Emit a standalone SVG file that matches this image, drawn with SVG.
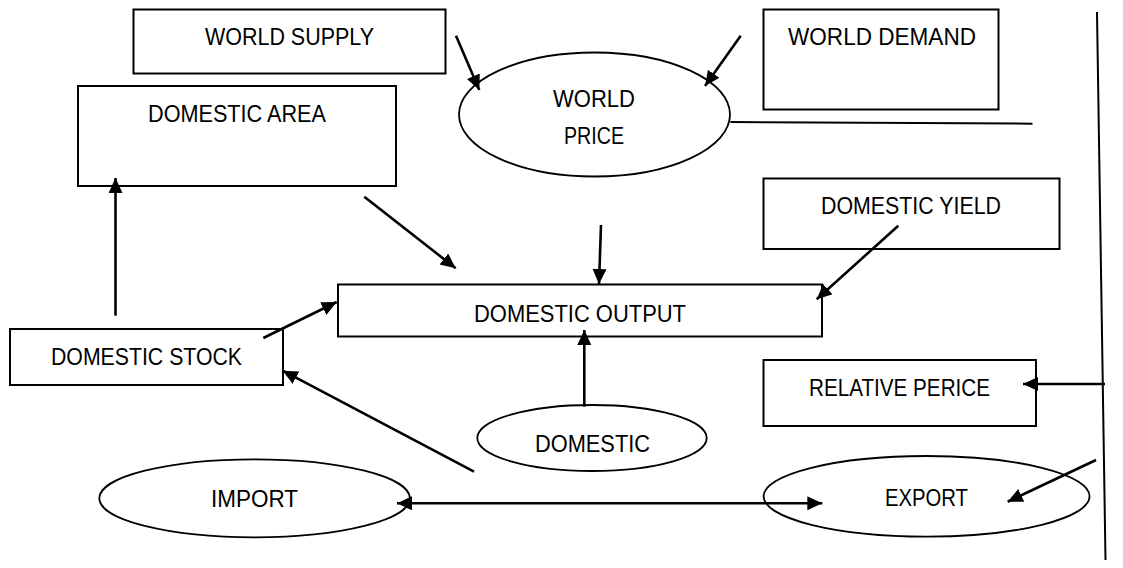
<svg xmlns="http://www.w3.org/2000/svg" width="1123" height="568" viewBox="0 0 1123 568">
<style>
.box{fill:none;stroke:#000;stroke-width:2}
.ell{fill:none;stroke:#000;stroke-width:1.8}
.lbl{font-family:"Liberation Sans",Arial,sans-serif;font-size:24px;fill:#000}
.arr{fill:none;stroke:#000;stroke-width:2.6;marker-end:url(#ah)}
.ln{fill:none;stroke:#000;stroke-width:2}
</style>
<defs>
<marker id="ah" markerUnits="userSpaceOnUse" markerWidth="18" markerHeight="16" refX="15" refY="7" orient="auto">
<path d="M0,0 L15,7 L0,14 z" fill="#000"/>
</marker>
<marker id="as" markerUnits="userSpaceOnUse" markerWidth="18" markerHeight="16" refX="0" refY="7" orient="auto">
<path d="M15,0 L0,7 L15,14 z" fill="#000"/>
</marker>
</defs>
<rect width="1123" height="568" fill="#fff"/>
<g id="world-supply">
<rect class="box" x="133.5" y="9.5" width="312" height="64"/>
<text class="lbl" x="205" y="45" textLength="169" lengthAdjust="spacingAndGlyphs">WORLD SUPPLY</text>
</g>
<g id="world-demand">
<rect class="box" x="763.5" y="9.5" width="235" height="100"/>
<text class="lbl" x="788" y="45" textLength="188" lengthAdjust="spacingAndGlyphs">WORLD DEMAND</text>
</g>
<g id="world-price">
<ellipse class="ell" cx="594.5" cy="114.5" rx="135.5" ry="62"/>
<text class="lbl" x="553" y="107" textLength="82" lengthAdjust="spacingAndGlyphs">WORLD</text>
<text class="lbl" x="564" y="144" textLength="60" lengthAdjust="spacingAndGlyphs">PRICE</text>
</g>
<g id="domestic-area">
<rect class="box" x="78" y="86" width="318" height="100"/>
<text class="lbl" x="148" y="122" textLength="178" lengthAdjust="spacingAndGlyphs">DOMESTIC AREA</text>
</g>
<g id="domestic-yield">
<rect class="box" x="763.5" y="178.5" width="296" height="70.5"/>
<text class="lbl" x="821" y="214" textLength="180" lengthAdjust="spacingAndGlyphs">DOMESTIC YIELD</text>
</g>
<g id="domestic-output">
<rect class="box" x="338" y="284.5" width="484" height="52"/>
<text class="lbl" x="474" y="321.5" textLength="212" lengthAdjust="spacingAndGlyphs">DOMESTIC OUTPUT</text>
</g>
<g id="domestic-stock">
<rect class="box" x="10" y="329" width="273" height="56"/>
<text class="lbl" x="51" y="365" textLength="191" lengthAdjust="spacingAndGlyphs">DOMESTIC STOCK</text>
</g>
<g id="relative-perice">
<rect class="box" x="763.5" y="360" width="272.5" height="66"/>
<text class="lbl" x="809" y="396" textLength="181" lengthAdjust="spacingAndGlyphs">RELATIVE PERICE</text>
</g>
<g id="domestic">
<ellipse class="ell" cx="592" cy="438" rx="114.7" ry="33"/>
<text class="lbl" x="535" y="452" textLength="115" lengthAdjust="spacingAndGlyphs">DOMESTIC</text>
</g>
<g id="import">
<ellipse class="ell" cx="254.6" cy="498.3" rx="155.3" ry="39"/>
<text class="lbl" x="211" y="507" textLength="87" lengthAdjust="spacingAndGlyphs">IMPORT</text>
</g>
<g id="export">
<ellipse class="ell" cx="926.6" cy="496.3" rx="163" ry="40.3"/>
<text class="lbl" x="885" y="505.5" textLength="83" lengthAdjust="spacingAndGlyphs">EXPORT</text>
</g>
<g id="connectors">
<line class="arr" x1="456" y1="35.7" x2="479.3" y2="90"/>
<line class="arr" x1="740.7" y1="35.7" x2="705" y2="86"/>
<line class="ln" x1="730.5" y1="122" x2="1032.5" y2="123.7"/>
<line class="ln" x1="1097" y1="12" x2="1105.5" y2="560"/>
<line class="arr" x1="115.5" y1="315.7" x2="115.5" y2="178"/>
<line class="arr" x1="364.3" y1="196.7" x2="455.7" y2="268.3"/>
<line class="arr" x1="601" y1="225" x2="599" y2="284"/>
<line class="arr" x1="898.3" y1="225.7" x2="816.7" y2="299.3"/>
<line class="arr" x1="263.3" y1="338" x2="336.7" y2="302"/>
<line class="arr" x1="584.3" y1="406.7" x2="584.3" y2="330"/>
<line class="arr" x1="474" y1="471.7" x2="282.7" y2="370.7"/>
<line class="arr" x1="1105" y1="384" x2="1023" y2="384"/>
<line class="arr" x1="397" y1="503.3" x2="822.3" y2="503.3" marker-start="url(#as)"/>
<line class="arr" x1="1096" y1="460" x2="1007.7" y2="501.7"/>
</g>
</svg>
